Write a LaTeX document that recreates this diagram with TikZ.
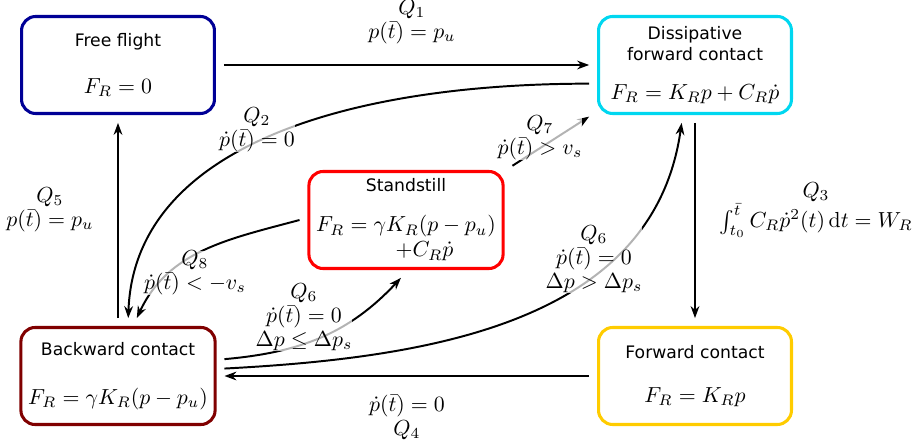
\documentclass[tikz,border=0pt]{standalone}
\usepackage[no-math]{fontspec}
\setmainfont{DejaVu Sans}
\usetikzlibrary{arrows.meta}
\definecolor{ffblue}{RGB}{0,0,150}
\definecolor{dfccyan}{RGB}{0,215,240}
\definecolor{ssred}{RGB}{255,0,0}
\definecolor{bcred}{RGB}{128,0,0}
\definecolor{fcgold}{RGB}{255,204,0}
\newcommand{\law}[1]{{\fontsize{10}{12}\selectfont$#1$}}

\begin{document}
\begin{tikzpicture}[x=0.4587pt, y=-0.4587pt,
  phase/.style={draw=#1, line width=1.4pt, rounded corners=6.5pt,
    minimum width=88.5pt, minimum height=44.5pt, align=center,
    outer sep=4.3pt, font=\fontsize{7.9}{12}\selectfont},
  flow/.style={-{Stealth[length=5.5pt,width=4pt]}, line width=0.9pt},
  cond/.style={fill=white, fill opacity=0.7, text opacity=1, inner sep=0pt,
    align=center, font=\fontsize{10}{11}\selectfont}]
  \useasboundingbox (0,0) rectangle (924,446);
  \node[phase=ffblue] (ff) at (118,65) {Free flight\\[9.6pt]\law{F_R=0}};
  \node[phase=dfccyan] (dfc) at (695,65) {Dissipative\\[-2.2pt]forward contact\\[6pt]\law{F_R=K_Rp+C_R\dot{p}}};
  \node[phase=ssred] (ss) at (406,220) {Standstill\\[6.3pt]\law{F_R=\gamma K_R(p-p_u)}\\[-0.5pt]\hspace*{17pt}\law{+C_R\dot{p}}};
  \node[phase=bcred] (bc) at (118,376) {Backward contact\\[10.5pt]\law{F_R=\gamma K_R(p-p_u)}};
  \node[phase=fcgold] (fc) at (695,376) {Forward contact\\[8.2pt]\law{F_R=K_Rp}};

  \draw[flow] (ff) -- (dfc);
  \draw[flow] (dfc) -- (fc);
  \draw[flow] (fc) -- (bc);
  \draw[flow] (bc) -- (ff);
  \draw[flow] (ss.27) -- (dfc.206);
  \draw[flow] (dfc.190) to[out=180, in=88, out looseness=1.2, in looseness=0.85] (bc.80);
  \draw[flow] (ss.west) to[out=195, in=65] (bc.72);
  \draw[flow] (bc.9) to[out=5, in=227] (ss.265);
  \draw[flow] (bc.4) to[out=3, in=262] (dfc.257);

  \node[cond] (q1) at (412,22) {$Q_1$\\$p(\bar{t})=p_u$};
  \node[cond] (q2) at (257,130) {$Q_2$\\$\dot{p}(\bar{t})=0$};
  \node[cond] (q3) at (816,210) {$Q_3$\\$\int_{t_0}^{\bar{t}} C_R\dot{p}^2(t)\,\mathrm{d}t=W_R$};
  \node[cond] (q4) at (407,417) {$\dot{p}(\bar{t})=0$\\$Q_4$};
  \node[cond] (q5) at (50,210) {$Q_5$\\$p(\bar{t})=p_u$};
  \node[cond] (q6a) at (304,317) {$Q_6$\\$\dot{p}(\bar{t})=0$\\$\Delta p\le\Delta p_s$};
  \node[cond] (q6b) at (594,259) {$Q_6$\\$\dot{p}(\bar{t})=0$\\$\Delta p>\Delta p_s$};
  \node[cond] (q7) at (540,138) {$Q_7$\\$\dot{p}(\bar{t})>v_s$};
  \node[cond] (q8) at (195,273) {$Q_8$\\$\dot{p}(\bar{t})<-v_s$};
\end{tikzpicture}
\end{document}
